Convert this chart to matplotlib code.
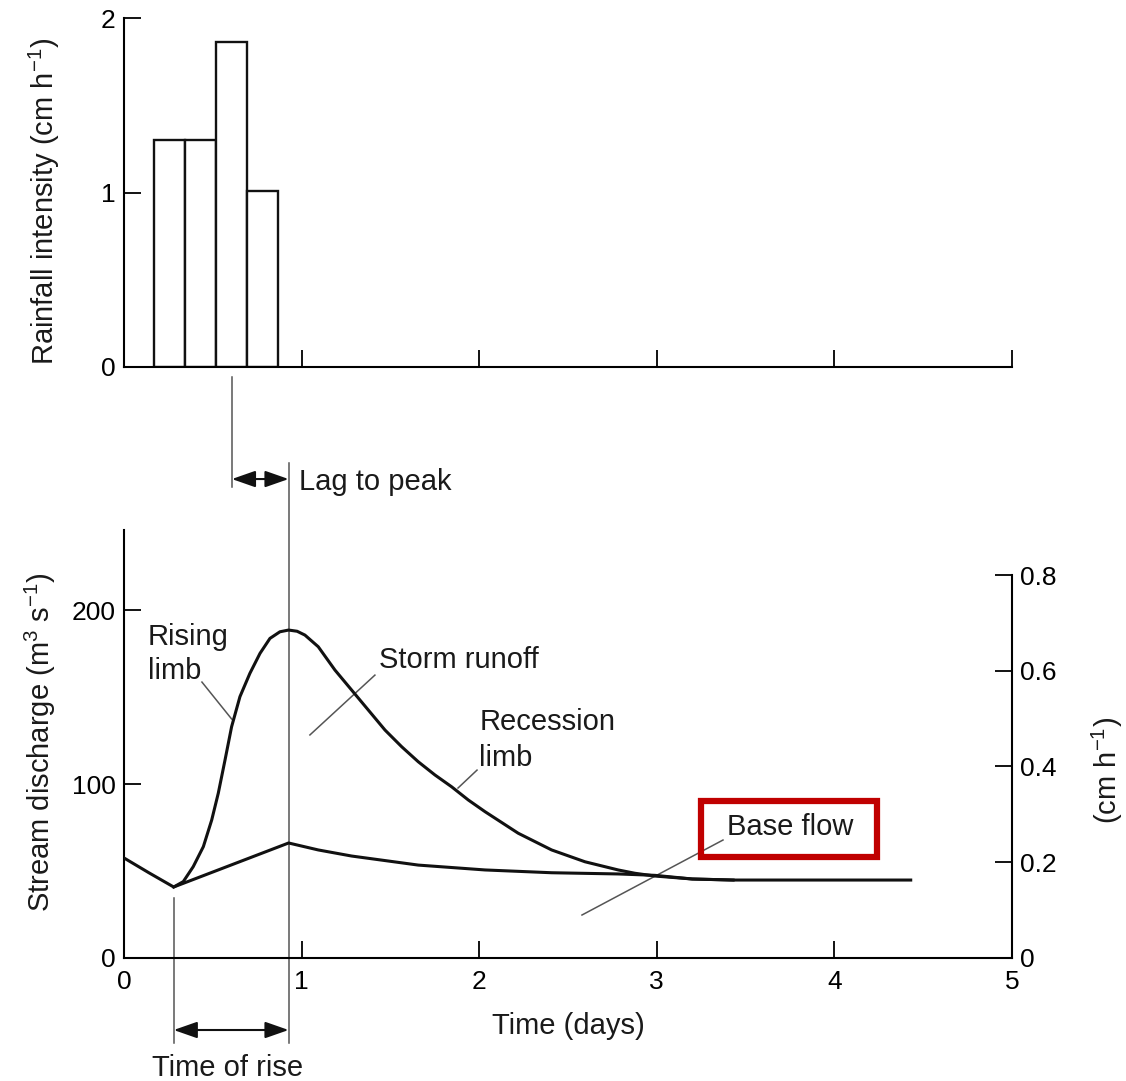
import matplotlib
matplotlib.use("Agg")
import matplotlib.pyplot as plt
from matplotlib.patches import Rectangle

plt.rcParams['font.family'] = ['Liberation Sans', 'DejaVu Sans']
plt.rcParams['mathtext.fontset'] = 'custom'
plt.rcParams['mathtext.rm'] = 'Liberation Sans'
plt.rcParams['mathtext.it'] = 'Liberation Sans:italic'
plt.rcParams['text.color'] = '#1a1a1a'

# rainfall bars (days, cm/h)
bar_left = [0.17, 0.345, 0.52, 0.695]
bar_width = 0.175
rain = [1.3, 1.3, 1.86, 1.01]

# storm hydrograph (days, m3/s)
storm_t = [0.28, 0.334, 0.39, 0.447, 0.494, 0.531, 0.569, 0.606, 0.653, 0.709,
           0.766, 0.822, 0.878, 0.927, 0.975, 1.019, 1.094, 1.188, 1.282, 1.376,
           1.47, 1.564, 1.657, 1.751, 1.845, 1.939, 2.033, 2.22, 2.408, 2.596,
           2.783, 2.877, 2.99, 3.2, 3.43]
storm_q = [40.8, 43.9, 52.5, 64.0, 79.3, 94.7, 113.8, 132.9, 150.2, 163.6,
           175.1, 183.7, 187.5, 188.5, 187.8, 185.6, 178.9, 165.5, 154.0, 142.5,
           131.0, 121.4, 112.8, 105.2, 98.4, 90.8, 84.1, 71.7, 62.1, 55.3,
           50.6, 48.7, 47.1, 45.4, 44.8]

# base flow (days, m3/s)
base_t = [0.0, 0.14, 0.28, 0.927, 1.094, 1.282, 1.657, 2.033, 2.408, 2.783, 2.99,
          3.2, 3.43, 4.43]
base_q = [57.5, 49.0, 40.8, 66.1, 62.1, 58.6, 53.4, 50.6, 49.0, 48.3, 47.5,
          45.4, 44.8, 44.8]

rise_start = storm_t[0]
peak_time = storm_t[storm_q.index(max(storm_q))]
rain_peak_time = bar_left[rain.index(max(rain))] + bar_width / 2

ink = '#111111'
grey = '#555555'
tick_fs = 19
lab_fs = 21

fig = plt.figure(figsize=(11.26, 10.81), dpi=100)
ax_top = fig.add_axes([0.1101, 0.6605, 0.7886, 0.3228])
ax = fig.add_axes([0.1101, 0.1138, 0.7886, 0.3959])

# ---- rainfall
ax_top.bar(bar_left, rain, width=bar_width, align='edge', facecolor='white',
           edgecolor=ink, linewidth=1.7)
ax_top.set_xlim(0, 5)
ax_top.set_ylim(0, 2)
ax_top.spines[['top', 'right']].set_visible(False)
for s in ax_top.spines.values():
    s.set_linewidth(1.5)
ax_top.set_xticks([1, 2, 3, 4, 5])
ax_top.set_xticklabels([])
ax_top.set_yticks([0, 1, 2])
ax_top.tick_params(direction='in', length=12, width=1.3, labelsize=tick_fs, pad=6)

# ---- hydrograph
ax.plot(base_t, base_q, color=ink, lw=2.2, zorder=3, solid_joinstyle='round')
ax.plot(storm_t, storm_q, color=ink, lw=2.2, zorder=3, solid_joinstyle='round')
ax.set_xlim(0, 5)
ax.set_ylim(0, 246)
ax.spines[['top', 'right']].set_visible(False)
for s in ax.spines.values():
    s.set_linewidth(1.5)
ax.set_xticks([0, 1, 2, 3, 4, 5])
ax.set_yticks([0, 100, 200])
ax.tick_params(direction='in', length=12, width=1.3, labelsize=tick_fs, pad=6)
ax.tick_params(axis='x', pad=9)

ax2 = ax.twinx()
ax2.set_ylim(0, 0.894)
ax2.spines[['top', 'left', 'bottom']].set_visible(False)
ax2.spines['right'].set_bounds(0, 0.8)
ax2.spines['right'].set_linewidth(1.5)
ax2.set_yticks([0, 0.2, 0.4, 0.6, 0.8])
ax2.set_yticklabels(['0', '0.2', '0.4', '0.6', '0.8'])
ax2.tick_params(direction='in', length=12, width=1.3, labelsize=tick_fs, pad=6)

# axis titles
fig.text(44 / 1126, 1 - 201 / 1081, 'Rainfall intensity (cm h$^{-1}$)', rotation=90,
         ha='center', va='center', fontsize=lab_fs)
fig.text(40 / 1126, 1 - 742 / 1081, 'Stream discharge (m$^{3}$ s$^{-1}$)', rotation=90,
         ha='center', va='center', fontsize=lab_fs)
fig.text(1107 / 1126, 1 - 770 / 1081, '(cm h$^{-1}$)', rotation=90,
         ha='center', va='center', fontsize=lab_fs)
fig.text(568 / 1126, 1 - 1034 / 1081, 'Time (days)', ha='center', va='baseline',
         fontsize=lab_fs)

# guide lines and arrows
ax.plot([rain_peak_time, rain_peak_time], [334, 270.7], color=grey, lw=1.1, clip_on=False)
ax.plot([peak_time, peak_time], [284.5, -48.9], color=grey, lw=1.1, clip_on=False, zorder=2)
ax.plot([rise_start, rise_start], [34.5, -48.9], color=grey, lw=1.1, clip_on=False)

arrow = dict(arrowstyle='<|-|>,head_length=0.8,head_width=0.28', color=ink, lw=1.5,
             shrinkA=0, shrinkB=0, mutation_scale=18)
ax.annotate('', xy=(peak_time, 275.3), xytext=(rain_peak_time, 275.3),
            arrowprops=arrow, annotation_clip=False)
ax.annotate('', xy=(peak_time, -41.4), xytext=(rise_start, -41.4),
            arrowprops=arrow, annotation_clip=False)

ax.text(0.985, 269, 'Lag to peak', fontsize=lab_fs, va='baseline', clip_on=False)
ax.text(0.586, -67.8, 'Time of rise', fontsize=lab_fs, ha='center', va='baseline',
        clip_on=False)

# curve labels with pointer lines
ax.text(0.135, 179.9, 'Rising', fontsize=lab_fs, va='baseline')
ax.text(0.135, 160.3, 'limb', fontsize=lab_fs, va='baseline')
ax.plot([0.439, 0.606], [158.6, 137.4], color=grey, lw=1.1)

ax.text(1.436, 166.7, 'Storm runoff', fontsize=lab_fs, va='baseline')
ax.plot([1.047, 1.413], [128.2, 162.6], color=grey, lw=1.1)

ax.text(2.0, 131, 'Recession', fontsize=lab_fs, va='baseline')
ax.text(2.0, 110.3, 'limb', fontsize=lab_fs, va='baseline')
ax.plot([1.881, 1.988], [97.7, 108.0], color=grey, lw=1.1)

ax.text(3.395, 70.7, 'Base flow', fontsize=lab_fs, va='baseline')
ax.plot([2.579, 3.373], [24.7, 67.8], color=grey, lw=1.1)
ax.add_patch(Rectangle((3.249, 58.0), 0.991, 32.2, fill=False, edgecolor='#C00000',
                       lw=4.5, clip_on=False, zorder=5))

fig.savefig('out.png', dpi=100)
